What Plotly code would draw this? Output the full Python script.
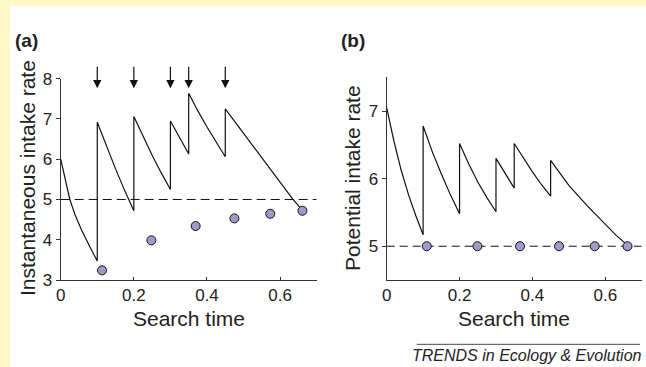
import plotly.graph_objects as go

# ---------------- data ----------------
# Panel (a): instantaneous intake rate (sawtooth)
curve_a_t = [0.0, 0.012, 0.025, 0.04, 0.057, 0.08, 0.1,
             0.1, 0.125, 0.15, 0.175, 0.2,
             0.2, 0.225, 0.25, 0.275, 0.3,
             0.3, 0.35,
             0.35, 0.375, 0.4, 0.425, 0.45,
             0.45, 0.5, 0.55, 0.6, 0.635, 0.66]
curve_a_v = [6.0, 5.48, 5.0, 4.6, 4.24, 3.82, 3.47,
             6.92, 6.32, 5.76, 5.22, 4.72,
             7.06, 6.56, 6.1, 5.66, 5.25,
             6.95, 6.13,
             7.64, 7.2, 6.8, 6.42, 6.06,
             7.25, 6.64, 6.03, 5.42, 5.0, 4.74]
dots_a_t = [0.113, 0.248, 0.369, 0.475, 0.573, 0.661]
dots_a_v = [3.24, 3.985, 4.34, 4.53, 4.645, 4.72]
arrow_t = [0.1, 0.2, 0.3, 0.35, 0.45]

# Panel (b): potential intake rate
curve_b_t = [0.0, 0.02, 0.04, 0.06, 0.08, 0.1,
             0.1, 0.125, 0.15, 0.175, 0.2,
             0.2, 0.225, 0.25, 0.275, 0.3,
             0.3, 0.325, 0.35,
             0.35, 0.375, 0.4, 0.425, 0.45,
             0.45, 0.5, 0.55, 0.6, 0.63, 0.66]
curve_b_v = [7.05, 6.55, 6.12, 5.76, 5.45, 5.17,
             6.78, 6.4, 6.07, 5.76, 5.48,
             6.52, 6.22, 5.95, 5.72, 5.51,
             6.30, 6.07, 5.86,
             6.52, 6.3, 6.1, 5.91, 5.74,
             6.27, 5.9, 5.6, 5.32, 5.16, 5.02]
dots_b_t = [0.110, 0.249, 0.366, 0.473, 0.571, 0.661]
dots_b_v = [5, 5, 5, 5, 5, 5]

threshold = 5
x_span = [0, 0.7]
x_ticks = [0, 0.2, 0.4, 0.6]
x_ticklabels = ["0", "0.2", "0.4", "0.6"]
ya_ticks = [3, 4, 5, 6, 7, 8]
yb_ticks = [5, 6, 7]

W, H = 646, 367
FONT = "Arial, 'Liberation Sans', sans-serif"
TXT = "#222222"
AX = "#333333"
DOT = "#9c9ccc"

def px(x):
    return x / W

def py(y):
    return 1 - y / H

fig = go.Figure()

# panel a
fig.add_trace(go.Scatter(x=x_span, y=[threshold, threshold], mode="lines",
                         line=dict(color="#111", width=1, dash="9px,5px"),
                         xaxis="x", yaxis="y", hoverinfo="skip"))
fig.add_trace(go.Scatter(x=curve_a_t, y=curve_a_v, mode="lines",
                         line=dict(color="#111", width=1.2),
                         xaxis="x", yaxis="y"))
fig.add_trace(go.Scatter(x=dots_a_t, y=dots_a_v, mode="markers",
                         marker=dict(size=9, color=DOT, line=dict(color="#111", width=1)),
                         xaxis="x", yaxis="y"))
# panel b
fig.add_trace(go.Scatter(x=x_span, y=[threshold, threshold], mode="lines",
                         line=dict(color="#111", width=1, dash="8px,5px"),
                         xaxis="x2", yaxis="y2", hoverinfo="skip"))
fig.add_trace(go.Scatter(x=curve_b_t, y=curve_b_v, mode="lines",
                         line=dict(color="#111", width=1.2),
                         xaxis="x2", yaxis="y2"))
fig.add_trace(go.Scatter(x=dots_b_t, y=dots_b_v, mode="markers",
                         marker=dict(size=9, color=DOT, line=dict(color="#111", width=1)),
                         xaxis="x2", yaxis="y2"))

xcommon = dict(range=[0, 0.7], showgrid=False, zeroline=False, showline=True,
               automargin=False,
               linecolor=AX, linewidth=1, ticks="inside", ticklen=3, tickcolor=AX,
               tickvals=x_ticks, ticktext=x_ticklabels,
               tickfont=dict(family=FONT, size=17, color=TXT))
ycommon = dict(showgrid=False, zeroline=False, showline=True, automargin=False,
               linecolor=AX, linewidth=1, ticks="outside", ticklen=4, tickcolor=AX,
               tickfont=dict(family=FONT, size=17, color=TXT))

shapes = [
    dict(type="rect", xref="paper", yref="paper", x0=0, x1=1, y0=py(6), y1=1,
         fillcolor="#FFF9C8", line=dict(width=0), layer="below"),
    dict(type="rect", xref="paper", yref="paper", x0=0, x1=px(10), y0=0, y1=1,
         fillcolor="#FFF9C8", line=dict(width=0), layer="below"),
    dict(type="line", xref="paper", yref="paper", x0=px(416.7), x1=px(640),
         y0=py(344.3), y1=py(344.3), line=dict(color="#444", width=1)),
]

def label(text, x, y, size, angle=0):
    return dict(text=text, x=px(x), y=py(y), xref="paper", yref="paper",
                xanchor="center", yanchor="middle", showarrow=False, textangle=angle,
                font=dict(family=FONT, size=size, color=TXT))

annotations = [
    label("<b>(a)</b>", 26, 41, 19),
    label("<b>(b)</b>", 353, 41, 19),
    label("Instantaneous intake rate", 27, 178, 21, -90),
    label("Potential intake rate", 352, 178, 21, -90),
    label("Search time", 188.7, 318, 21),
    label("Search time", 514, 318, 21),
    label("<i>TRENDS in Ecology &amp; Evolution</i>", 527, 355.5, 16),
]
for t in arrow_t:
    annotations.append(dict(x=t, y=7.76, xref="x", yref="y", text="", showarrow=True,
                            ax=0, ay=-23, arrowhead=2, arrowsize=1.4, arrowwidth=1.2,
                            arrowcolor="#111", standoff=0))

fig.update_layout(
    width=W, height=H, margin=dict(l=0, r=0, t=0, b=0, pad=0, autoexpand=False),
    paper_bgcolor="white", plot_bgcolor="rgba(0,0,0,0)", showlegend=False,
    hovermode=False,
    xaxis=dict(domain=[px(60.7), px(316.7)], anchor="y", **xcommon),
    yaxis=dict(domain=[py(280), py(78.7)], anchor="x", range=[3, 8],
               tickvals=ya_ticks, **ycommon),
    xaxis2=dict(domain=[px(386.7), px(641.7)], anchor="y2", **xcommon),
    yaxis2=dict(domain=[py(280), py(77.3)], anchor="x2", range=[4.5, 7.5],
                tickvals=yb_ticks, **ycommon),
    shapes=shapes, annotations=annotations,
)

post = "document.body.style.margin='0';document.body.style.overflow='hidden';"
fig.write_html("out.html", config={"displayModeBar": False, "staticPlot": True},
               post_script=post)
